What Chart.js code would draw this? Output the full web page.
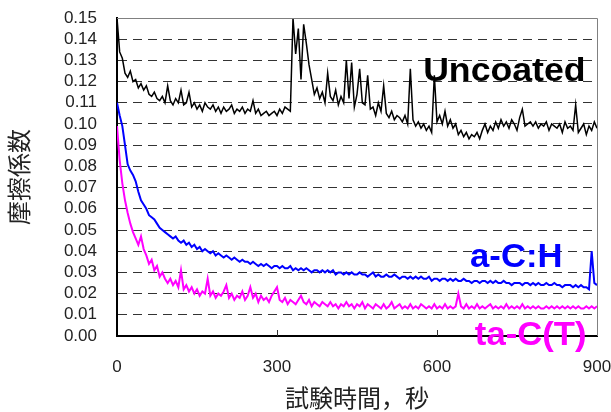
<!DOCTYPE html>
<html>
<head>
<meta charset="utf-8">
<script src="https://cdn.jsdelivr.net/npm/chart.js@4"></script>
<style>
  html, body { margin:0; padding:0; background:#fff }
  #wrap { width:611px; height:412px }
</style>
</head>
<body>
<div id="wrap"><canvas id="c" width="611" height="412"></canvas></div>
<script>
// friction coefficient vs test time, one sample every 5 s (0..900 s)
const SAMPLE_STEP = 5

const uncoated = [
  0.150, 0.134, 0.131, 0.124, 0.122, 0.125, 0.120, 0.121, 0.117, 0.119,
  0.116, 0.118, 0.114, 0.113, 0.115, 0.112, 0.111, 0.113, 0.110, 0.118,
  0.111, 0.109, 0.112, 0.110, 0.116, 0.109, 0.110, 0.115, 0.108, 0.110,
  0.107, 0.109, 0.106, 0.110, 0.108, 0.107, 0.109, 0.106, 0.108, 0.105,
  0.108, 0.106, 0.107, 0.109, 0.105, 0.107, 0.106, 0.108, 0.105, 0.107,
  0.106, 0.111, 0.105, 0.107, 0.104, 0.105, 0.106, 0.104, 0.105, 0.106,
  0.104, 0.107, 0.105, 0.108, 0.107, 0.106, 0.150, 0.133, 0.145, 0.121,
  0.147, 0.138, 0.128, 0.121, 0.114, 0.117, 0.112, 0.115, 0.110, 0.124,
  0.113, 0.111, 0.116, 0.109, 0.113, 0.110, 0.130, 0.112, 0.129, 0.108,
  0.114, 0.126, 0.110, 0.109, 0.123, 0.107, 0.108, 0.104, 0.110, 0.106,
  0.118, 0.105, 0.103, 0.106, 0.102, 0.104, 0.103, 0.101, 0.104, 0.100,
  0.126, 0.102, 0.099, 0.101, 0.098, 0.100, 0.097, 0.099, 0.096, 0.123,
  0.101, 0.104, 0.100, 0.106, 0.099, 0.102, 0.098, 0.100, 0.095, 0.097,
  0.094, 0.096, 0.093, 0.095, 0.094, 0.096, 0.093, 0.097, 0.100, 0.096,
  0.099, 0.097, 0.101, 0.098, 0.102, 0.099, 0.101, 0.098, 0.102, 0.100,
  0.097, 0.103, 0.107, 0.099, 0.100, 0.101, 0.099, 0.101, 0.098, 0.100,
  0.099, 0.101, 0.097, 0.100, 0.099, 0.098, 0.100, 0.096, 0.101, 0.098,
  0.099, 0.097, 0.109, 0.096, 0.098, 0.100, 0.095, 0.099, 0.097, 0.101,
  0.098
]

const aCH = [
  0.110, 0.104, 0.099, 0.090, 0.081, 0.078, 0.076, 0.073, 0.068, 0.064,
  0.062, 0.060, 0.057, 0.056, 0.055, 0.053, 0.051, 0.050, 0.049, 0.048,
  0.047, 0.046, 0.047, 0.045, 0.044, 0.045, 0.043, 0.044, 0.042, 0.043,
  0.041, 0.042, 0.040, 0.041, 0.040, 0.039, 0.040, 0.038, 0.039, 0.038,
  0.037, 0.038, 0.037, 0.036, 0.037, 0.036, 0.035, 0.036, 0.035, 0.035,
  0.034, 0.035, 0.034, 0.033, 0.034, 0.033, 0.034, 0.033, 0.032, 0.033,
  0.033, 0.032, 0.033, 0.032, 0.032, 0.033, 0.031, 0.032, 0.031, 0.032,
  0.031, 0.032, 0.031, 0.030, 0.031, 0.031, 0.030, 0.031, 0.030, 0.031,
  0.030, 0.031, 0.029, 0.030, 0.030, 0.029, 0.030, 0.029, 0.030, 0.029,
  0.029, 0.030, 0.029, 0.029, 0.028, 0.029, 0.030, 0.028, 0.029, 0.028,
  0.028, 0.029, 0.028, 0.028, 0.029, 0.028, 0.027, 0.028, 0.028, 0.027,
  0.028, 0.027, 0.028, 0.027, 0.028, 0.027, 0.027, 0.028, 0.026, 0.027,
  0.027, 0.026, 0.027, 0.027, 0.026, 0.027, 0.026, 0.027, 0.026, 0.026,
  0.027, 0.026, 0.026, 0.025, 0.026, 0.026, 0.025, 0.026, 0.026, 0.025,
  0.026, 0.025, 0.026, 0.025, 0.025, 0.026, 0.025, 0.025, 0.024, 0.025,
  0.025, 0.025, 0.024, 0.025, 0.025, 0.024, 0.025, 0.024, 0.025, 0.024,
  0.024, 0.025, 0.024, 0.024, 0.025, 0.024, 0.024, 0.023, 0.024, 0.024,
  0.024, 0.023, 0.024, 0.023, 0.024, 0.023, 0.023, 0.022, 0.040, 0.025,
  0.024
]

const taCT = [
  0.099, 0.083, 0.072, 0.064, 0.058, 0.053, 0.049, 0.046, 0.043, 0.047,
  0.041, 0.038, 0.034, 0.036, 0.031, 0.033, 0.028, 0.030, 0.027, 0.025,
  0.027, 0.024, 0.026, 0.023, 0.031, 0.022, 0.024, 0.021, 0.023, 0.020,
  0.022, 0.019, 0.021, 0.020, 0.027, 0.019, 0.021, 0.018, 0.020, 0.019,
  0.021, 0.024, 0.018, 0.020, 0.017, 0.019, 0.018, 0.021, 0.017, 0.019,
  0.023, 0.018, 0.020, 0.016, 0.019, 0.017, 0.018, 0.016, 0.019, 0.021,
  0.023, 0.017, 0.016, 0.018, 0.015, 0.017, 0.016, 0.015, 0.017, 0.019,
  0.016, 0.015, 0.017, 0.014, 0.016, 0.015, 0.014, 0.016, 0.015, 0.014,
  0.016, 0.014, 0.015, 0.013, 0.015, 0.014, 0.016, 0.014, 0.015, 0.013,
  0.015, 0.014, 0.016, 0.013, 0.015, 0.014, 0.013, 0.015, 0.014, 0.013,
  0.015, 0.013, 0.014, 0.016, 0.013, 0.014, 0.015, 0.013, 0.014, 0.013,
  0.015, 0.013, 0.014, 0.013, 0.015, 0.014, 0.013, 0.014, 0.013, 0.015,
  0.013, 0.014, 0.013, 0.015, 0.013, 0.014, 0.013, 0.014, 0.020, 0.014,
  0.013, 0.015, 0.013, 0.014, 0.013, 0.015, 0.013, 0.014, 0.013, 0.014,
  0.015, 0.013, 0.014, 0.013, 0.014, 0.013, 0.015, 0.013, 0.014, 0.013,
  0.014, 0.013, 0.015, 0.013, 0.014, 0.013, 0.014, 0.013, 0.014, 0.013,
  0.013, 0.014, 0.013, 0.014, 0.013, 0.014, 0.013, 0.014, 0.013, 0.014,
  0.013, 0.014, 0.013, 0.014, 0.013, 0.013, 0.014, 0.013, 0.014, 0.013,
  0.014
]

const xTicks = [0, 300, 600, 900]
const yTicks = [0, 0.01, 0.02, 0.03, 0.04, 0.05, 0.06, 0.07, 0.08, 0.09, 0.10, 0.11, 0.12, 0.13, 0.14, 0.15]
const seriesNames = ['Uncoated', 'a-C:H', 'ta-C(T)']
const seriesColors = ['#000000', '#0000ff', '#ff00ff']
// where each series name is written, in data units (left edge, baseline)
const labelAt = [[574, 0.1205], [662, 0.0325], [671, -0.0043]]
const labelStretch = [1.08, 1.05, 1.05]

const xTitle = '試験時間，秒'
const yTitle = '摩擦係数'

const FONT = "'Liberation Sans', Arial, 'Noto Sans CJK JP', sans-serif"

function toPoints(values){
  return values.map((v, i) => ({ x: i * SAMPLE_STEP, y: v }))
}

// grey top/right frame, inward x ticks, series names
const decor = {
  id: 'decor',
  afterDatasetsDraw(chart){
    const { ctx, chartArea: a, scales: { x } } = chart
    ctx.save()
    ctx.strokeStyle = '#808080'; ctx.lineWidth = 1
    ctx.beginPath()
    ctx.moveTo(a.left, a.top + 0.5); ctx.lineTo(a.right + 0.5, a.top + 0.5); ctx.lineTo(a.right + 0.5, a.bottom)
    ctx.stroke()
    ctx.strokeStyle = '#333'
    xTicks.slice(1, -1).forEach(t => {
      const px = Math.round(x.getPixelForValue(t)) + 0.5
      ctx.beginPath(); ctx.moveTo(px, a.bottom); ctx.lineTo(px, a.bottom - 6); ctx.stroke()
    })
    ctx.restore()
  },
  afterDraw(chart){
    const { ctx, scales: { x, y } } = chart
    ctx.save()
    ctx.font = 'bold 33px ' + FONT
    ctx.textBaseline = 'alphabetic'
    seriesNames.forEach((name, i) => {
      ctx.save()
      ctx.fillStyle = seriesColors[i]
      const px = x.getPixelForValue(labelAt[i][0]), py = y.getPixelForValue(labelAt[i][1])
      ctx.translate(px, py); ctx.scale(labelStretch[i], 1)
      ctx.fillText(name, 0, 0)
      ctx.restore()
    })
    ctx.restore()
  }
}

new Chart(document.getElementById('c'), {
  type: 'line',
  data: {
    datasets: [
      { label: seriesNames[0], data: toPoints(uncoated), borderColor: seriesColors[0], borderWidth: 1.5 },
      { label: seriesNames[1], data: toPoints(aCH), borderColor: seriesColors[1], borderWidth: 2 },
      { label: seriesNames[2], data: toPoints(taCT), borderColor: seriesColors[2], borderWidth: 2 }
    ]
  },
  options: {
    responsive: false,
    animation: false,
    parsing: false,
    elements: { point: { radius: 0 }, line: { tension: 0 } },
    layout: { padding: { left: 0, top: 18, right: 14, bottom: 0 } },
    plugins: { legend: { display: false }, tooltip: { enabled: false } },
    scales: {
      x: {
        type: 'linear', min: 0, max: 900,
        afterBuildTicks: s => { s.ticks = xTicks.map(v => ({ value: v })) },
        afterFit: s => { s.height = 76; s.paddingLeft = 0; s.paddingRight = 0 },
        grid: { display: false },
        border: { display: true, color: '#000', width: 2 },
        ticks: { color: '#222', font: { family: FONT, size: 17 }, padding: 13, maxRotation: 0, autoSkip: false },
        title: { display: true, text: xTitle, color: '#222', font: { family: FONT, size: 24, lineHeight: 1 }, padding: 0 }
      },
      y: {
        min: 0, max: 0.15,
        afterBuildTicks: s => { s.ticks = yTicks.map(v => ({ value: v })) },
        ticks: { color: '#222', font: { family: FONT, size: 17 }, padding: 20, autoSkip: false,
          callback: v => v.toFixed(2) },
        afterFit: s => { s.width = 117; s.paddingTop = 0; s.paddingBottom = 0 },
        grid: {
          drawTicks: false,
          color: c => (c.tick && (c.tick.value < 0.001 || c.tick.value > 0.149)) ? 'rgba(0,0,0,0)' : '#333',
          lineWidth: 1
        },
        border: { display: true, color: '#000', width: 2, dash: [9, 6] },
        title: { display: true, text: yTitle, color: '#222', font: { family: FONT, size: 24, lineHeight: 1 }, padding: { top: 9, bottom: 0 } }
      }
    }
  },
  plugins: [decor]
})
</script>
</body>
</html>
